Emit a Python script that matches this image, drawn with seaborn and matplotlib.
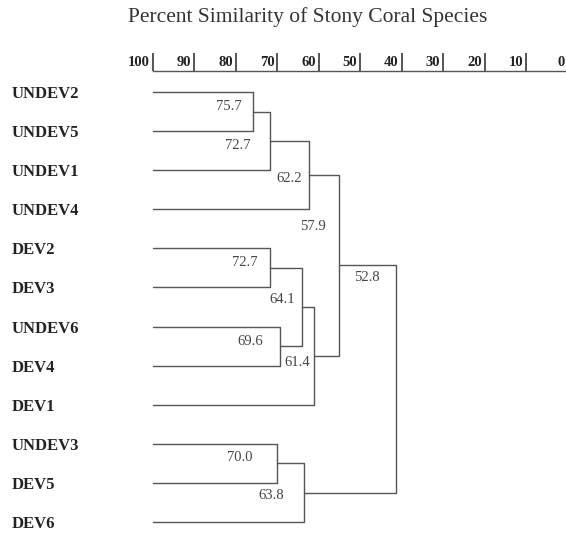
import numpy as np
import pandas as pd
import matplotlib
matplotlib.use('Agg')
import matplotlib.pyplot as plt
import seaborn as sns

# leaves, top to bottom
leaves = ['UNDEV2', 'UNDEV5', 'UNDEV1', 'UNDEV4', 'DEV2', 'DEV3',
          'UNDEV6', 'DEV4', 'DEV1', 'UNDEV3', 'DEV5', 'DEV6']

# merges: node 12, 13, ... join items left/right (leaf index or earlier node)
merge_left = [0, 12, 13, 4, 6, 15, 17, 14, 9, 20, 19]
merge_right = [1, 2, 3, 5, 7, 16, 8, 18, 10, 11, 21]
# printed similarity at each join
similarity = [75.7, 72.7, 62.2, 72.7, 69.6, 64.1, 61.4, 57.9, 70.0, 63.8, 52.8]
# where each join is drawn against the % scale
join_level = [75.8, 71.7, 62.2, 71.7, 69.3, 64.0, 61.1, 55.1, 70.0, 63.5, 41.4]

scale_ticks = [100, 90, 80, 70, 60, 50, 40, 30, 20, 10, 0]

# label nudges: dx in pixels left of the join, dy in leaf-row units
label_dx = [-11, -20, -8, -13, -17, -7, -4, -13, -25, -20, -16]
label_dy = [-0.12, 0.13, 0.1, -0.15, -0.11, -0.18, 0.18, -1.0, -0.16, 0.06, -2.6]

sns.set_style('white')
plt.rcParams['font.family'] = ['Liberation Serif', 'DejaVu Serif']

line_col = '#555555'

# build the elbow segments
pos_x = [100.0] * len(leaves)
pos_y = [float(i) for i in range(len(leaves))]
rows = []
label_pos = []
for k, (a, b) in enumerate(zip(merge_left, merge_right)):
    lvl = join_level[k]
    pts = [(pos_x[a], pos_y[a]), (lvl, pos_y[a]), (lvl, pos_y[b]), (pos_x[b], pos_y[b])]
    for x, y in pts:
        rows.append({'seg': k, 'x': x, 'y': y})
    mid = (pos_y[a] + pos_y[b]) / 2
    label_pos.append((lvl, mid))
    pos_x.append(lvl)
    pos_y.append(mid)
segs = pd.DataFrame(rows)

fig = plt.figure(figsize=(5.66, 5.35), dpi=100)
ax = fig.add_axes([152.7 / 566, 0, (567.5 - 152.7) / 566, (535 - 70.7) / 535])

sns.lineplot(data=segs, x='x', y='y', units='seg', estimator=None, sort=False,
             color=line_col, linewidth=1.0, ax=ax, legend=False)
for ln in ax.lines:
    ln.set_clip_on(False)

ax.set_xlim(100, 0)
ax.set_ylim(11.333, -0.545)
ax.set_xlabel('')
ax.set_ylabel('')

for side in ['left', 'right', 'bottom']:
    ax.spines[side].set_visible(False)
ax.spines['top'].set_color(line_col)
ax.spines['top'].set_linewidth(1.0)

# scale on top
ax.xaxis.tick_top()
ax.set_xticks(scale_ticks)
ax.tick_params(axis='x', direction='out', length=13, width=1.4, color=line_col,
               labeltop=False, labelbottom=False)
for v in scale_ticks:
    ax.annotate(str(v), xy=(v, 1), xycoords=('data', 'axes fraction'),
                xytext=(-2, 1.5), textcoords='offset points', ha='right', va='bottom',
                fontsize=10.5, fontweight='bold', color='#222222', annotation_clip=False)

# leaf names
ax.set_yticks(range(len(leaves)))
ax.set_yticklabels(leaves, fontsize=12, fontweight='bold', color='#222222', ha='left')
ax.tick_params(axis='y', length=0, pad=(152.7 - 12) * 0.72)

# join labels
for k, (x, y) in enumerate(label_pos):
    ax.annotate(f'{similarity[k]:.1f}', xy=(x, y + label_dy[k]),
                xytext=(label_dx[k] * 0.72, 0), textcoords='offset points',
                ha='right', va='center',
                fontsize=10.5, color='#444444', annotation_clip=False)

fig.text(307.5 / 566, 1 - 17 / 535, 'Percent Similarity of Stony Coral Species',
         ha='center', va='center', fontsize=15.5, color='#333333')

fig.savefig('out.png', dpi=100)
